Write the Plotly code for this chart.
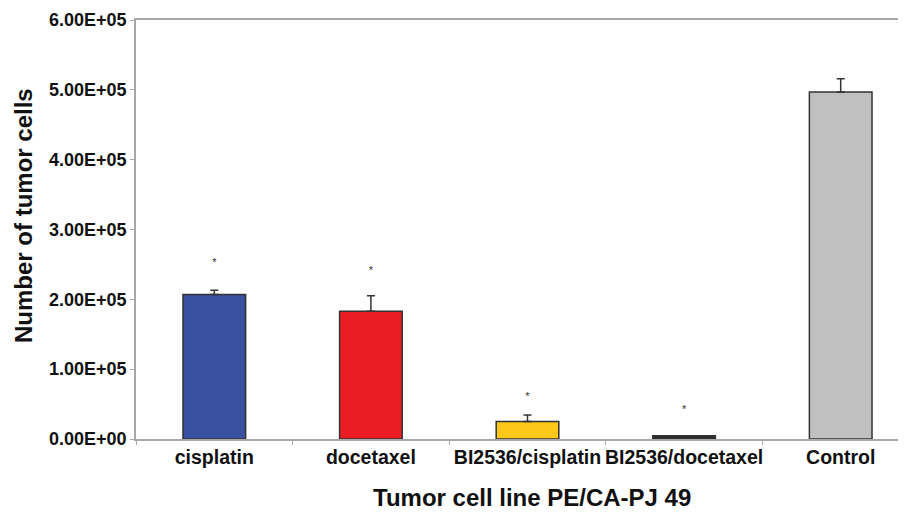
import plotly.graph_objects as go

categories = ["cisplatin", "docetaxel", "BI2536/cisplatin", "BI2536/docetaxel", "Control"]
values = [207000, 183000, 25000, 4700, 497000]
errors_plus = [6000, 22000, 9500, 0, 19000]
sig_y = [252000, 240000, 60000, 40500, None]
bar_colors = ["#3a50a0", "#ec1c24", "#fcc81a", "#2a2a2a", "#c0c0c0"]
y_ticks = [0, 100000, 200000, 300000, 400000, 500000, 600000]
y_tick_labels = ["0.00E+00", "1.00E+05", "2.00E+05", "3.00E+05", "4.00E+05", "5.00E+05", "6.00E+05"]
x_title = "Tumor cell line PE/CA-PJ 49"
y_title = "Number of tumor cells"

fig = go.Figure()
fig.add_trace(go.Bar(
    x=categories, y=values, width=0.4,
    marker=dict(color=bar_colors, line=dict(color="#333333", width=1.5)),
    error_y=dict(type="data", symmetric=False, array=errors_plus,
                 arrayminus=[0] * len(values), color="#333333", thickness=1.5, width=4),
    showlegend=False, hoverinfo="skip",
))
sig_x = [c for c, s in zip(categories, sig_y) if s is not None]
sig_v = [s for s in sig_y if s is not None]
fig.add_trace(go.Scatter(
    x=sig_x, y=sig_v, mode="text", text=["*"] * len(sig_v),
    textfont=dict(size=11, color="#333333", family="Arial, Liberation Sans"),
    showlegend=False, hoverinfo="skip",
))

font_family = "Arial, Liberation Sans, Helvetica, sans-serif"
fig.update_layout(
    width=898, height=506,
    margin=dict(l=128, r=0, t=12, b=75, autoexpand=False),
    paper_bgcolor="white", plot_bgcolor="white",
    font=dict(family=font_family, color="#111111"),
    xaxis=dict(
        range=[-0.5, 4.417], automargin=False,
        showline=True, linecolor="#a8a8a8", linewidth=1.5, mirror=True,
        ticks="outside", ticklen=4, tickcolor="#a8a8a8",
        tickson="boundaries", tickangle=0,
        tickfont=dict(size=19.5, family=font_family, color="#111111", weight="bold"),
        showgrid=False, zeroline=False,
    ),
    yaxis=dict(
        range=[0, 600000], automargin=False,
        tickvals=y_ticks, ticktext=y_tick_labels,
        showline=True, linecolor="#a8a8a8", linewidth=1.5,
        ticks="outside", ticklen=4, tickcolor="#a8a8a8",
        tickfont=dict(size=18, family=font_family, color="#111111", weight="bold"),
        showgrid=False, zeroline=False,
    ),
    annotations=[
        dict(text="<b>" + x_title + "</b>", xref="paper", yref="paper",
             x=(532 - 136) / 770, y=(439 - 497) / 419, xanchor="center", yanchor="middle",
             showarrow=False, font=dict(size=24, family=font_family, color="#111111")),
        dict(text="<b>" + y_title + "</b>", xref="paper", yref="paper",
             x=(23 - 136) / 770, y=(439 - 216) / 419, xanchor="center", yanchor="middle",
             textangle=-90, showarrow=False, font=dict(size=24, family=font_family, color="#111111")),
    ],
)

fig.write_html("out.html")
